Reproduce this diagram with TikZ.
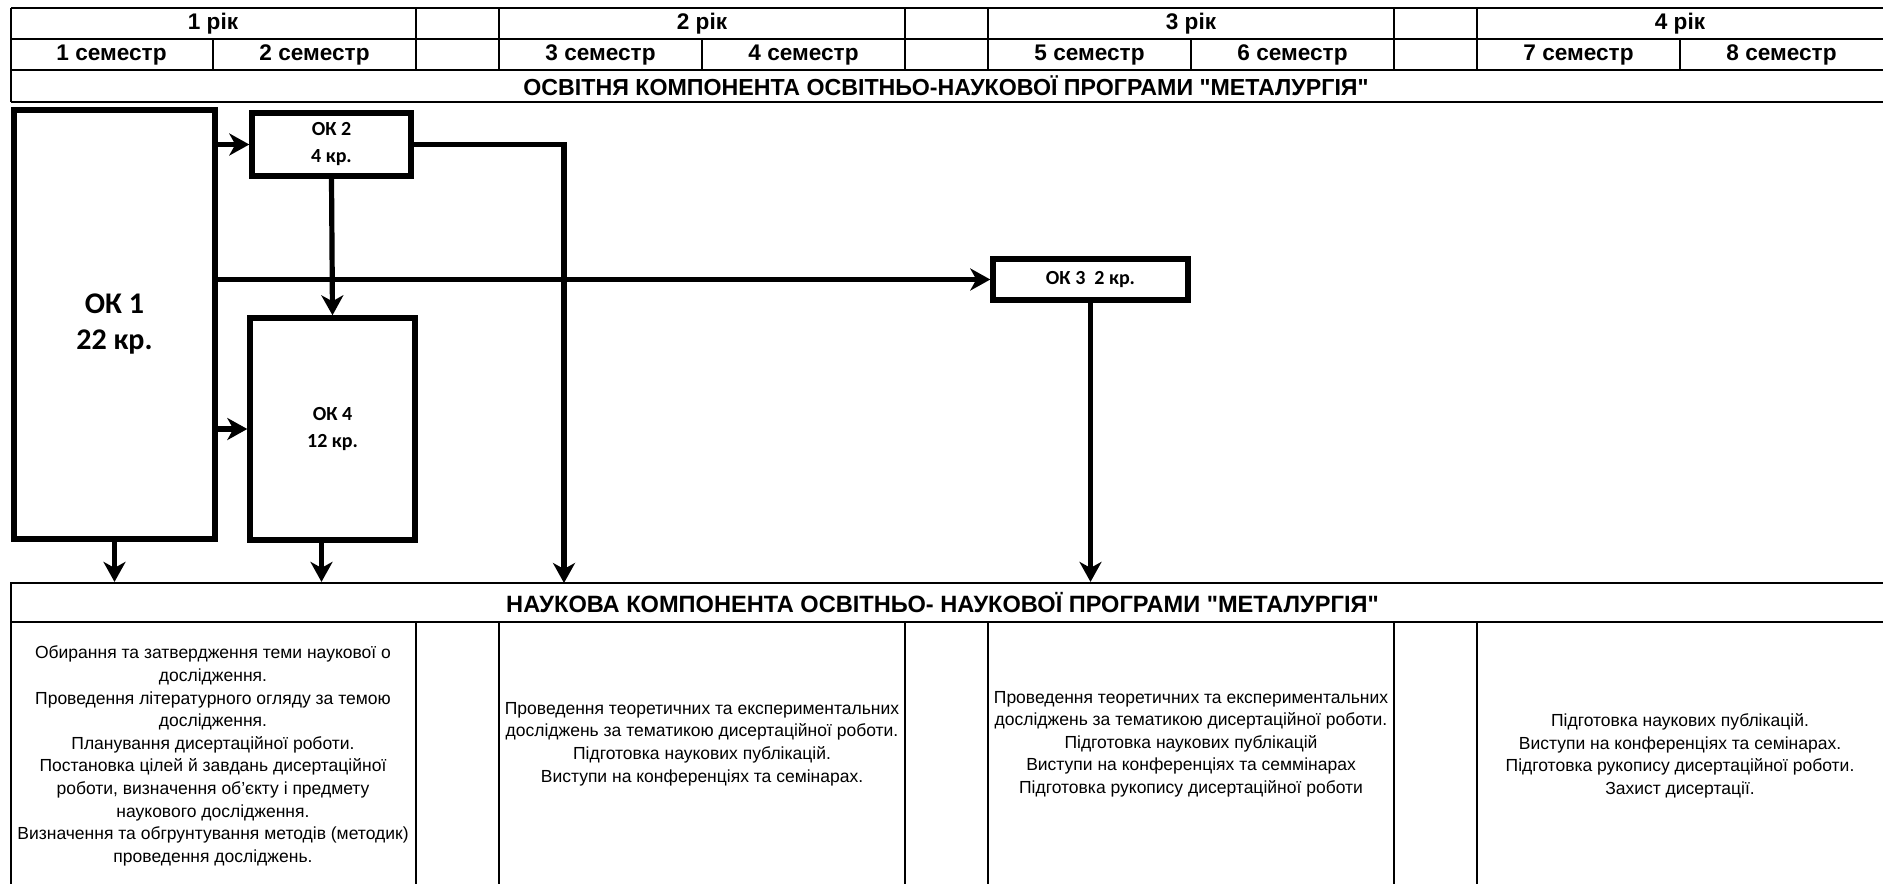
\documentclass[tikz,border=0pt]{standalone}
\usepackage{fontspec}
\setmainfont{Liberation Sans}[Ligatures=TeXOff]
\newfontfamily\calib{Carlito}
\usetikzlibrary{arrows.meta}
\begin{document}
\begin{tikzpicture}[x=0.5pt,y=-0.5pt,
  tline/.style={line width=1.1pt},
  box/.style={draw, line width=2.7pt, rectangle, inner sep=0pt, font=\calib\bfseries\fontsize{10}{13.5}\selectfont, align=center},
  conn/.style={line width=2.6pt, -{Stealth[length=10pt,width=11pt,inset=3pt]}},
  hdr/.style={inner sep=0pt, font=\bfseries\fontsize{11.3}{13}\selectfont},
  ttl/.style={inner sep=0pt, font=\bfseries\fontsize{11.6}{13}\selectfont},
  body/.style={align=center, inner sep=0pt, font=\fontsize{8.75}{11.3}\selectfont}
]
\useasboundingbox (0,0) rectangle (1883,883);
% ---------- top table ----------
\foreach \yy in {8,39,70} \draw[tline] (11,\yy) -- (1890,\yy);
\draw[line width=1.4pt] (11,102) -- (1890,102);
\draw[tline] (11,8) -- (11,102);
\foreach \xx in {416,499,905,988,1394,1477} \draw[tline] (\xx,8) -- (\xx,70);
\foreach \xx in {213,702,1191,1680} \draw[tline] (\xx,39) -- (\xx,70);
\node[hdr] (y1) at (213,24) {1 рік};
\node[hdr] (y2) at (702,24) {2 рік};
\node[hdr] (y3) at (1191,24) {3 рік};
\node[hdr] (y4) at (1680,24) {4 рік};
\node[hdr] (s1) at (111.5,55) {1 семестр};
\node[hdr] (s2) at (314.5,55) {2 семестр};
\node[hdr] (s3) at (600.5,55) {3 семестр};
\node[hdr] (s4) at (803.5,55) {4 семестр};
\node[hdr] (s5) at (1089.5,55) {5 семестр};
\node[hdr] (s6) at (1292.5,55) {6 семестр};
\node[hdr] (s7) at (1578.5,55) {7 семестр};
\node[hdr] (s8) at (1781.5,55) {8 семестр};
\node[ttl] (osv) at (946,86) {ОСВІТНЯ КОМПОНЕНТА ОСВІТНЬО-НАУКОВОЇ ПРОГРАМИ "МЕТАЛУРГІЯ"};
% ---------- boxes ----------
\node[box, minimum width=100.5pt, minimum height=214.5pt, font=\calib\bfseries\fontsize{15}{18}\selectfont] (ok1) at (114.5,324.5) {ОК 1\\22 кр.};
\node[box, minimum width=79.5pt, minimum height=31.5pt] (ok2) at (331.5,144.5) {ОК 2\\4 кр.};
\node[box, minimum width=82.5pt, minimum height=111pt] (ok4) at (332.5,429) {ОК 4\\ 12 кр.};
\node[box, minimum width=97.5pt, minimum height=20.5pt] (ok3) at (1090.5,279.5) {ОК 3~~2 кр.};
% ---------- science header ----------
\node[draw, tline, rectangle, minimum width=939.5pt, minimum height=19.5pt, inner sep=0pt,
      font=\bfseries\fontsize{11.8}{13}\selectfont] (nauk) at (950.5,602.5)
      {\hspace*{-8pt}НАУКОВА КОМПОНЕНТА ОСВІТНЬО- НАУКОВОЇ ПРОГРАМИ "МЕТАЛУРГІЯ"};
\foreach \xx in {416,499,905,988,1394,1477} \draw[tline] (\xx,622) -- (\xx,890);
\draw[tline] (11,622) -- (11,890);
% ---------- connectors ----------
\draw[conn] (ok1.east |- ok2.west) -- (ok2.west);
\draw[conn] (ok1.east |- ok4.west) -- (ok4.west);
\draw[conn] (ok1.east |- ok3.west) -- (ok3.west);
\draw[conn] (ok2.south) -- (ok4.north);
\coordinate (t2) at (564,583);
\draw[conn] (ok2.east) -| (t2);
\draw[conn] (ok3.south) -- (ok3.south |- nauk.north);
\draw[conn] (ok1.south) -- (ok1.south |- nauk.north);
\draw[conn] ([xshift=-5.5pt]ok4.south) -- ([xshift=-5.5pt]ok4.south |- nauk.north);
% ---------- science texts ----------
\node[body] (t1) at (213,756) {Обирання та затвердження теми наукової о\\
дослідження.\\
Проведення літературного огляду за темою\\
дослідження.\\
Планування дисертаційної роботи.\\
Постановка цілей й завдань дисертаційної\\
роботи, визначення об’єкту і предмету\\
наукового дослідження.\\
Визначення та обгрунтування методів (методик)\\
проведення досліджень.};
\node[body] (t2b) at (702,744) {Проведення теоретичних та експериментальних\\
досліджень за тематикою дисертаційної роботи.\\
Підготовка наукових публікацій.\\
Виступи на конференціях та семінарах.};
\node[body] (t3) at (1191,744) {Проведення теоретичних та експериментальних\\
досліджень за тематикою дисертаційної роботи.\\
Підготовка наукових публікацій\\
Виступи на конференціях та семмінарах\\
Підготовка рукопису дисертаційної роботи};
\node[body] (t4) at (1680,756) {Підготовка наукових публікацій.\\
Виступи на конференціях та семінарах.\\
Підготовка рукопису дисертаційної роботи.\\
Захист дисертації.};
\end{tikzpicture}
\end{document}
